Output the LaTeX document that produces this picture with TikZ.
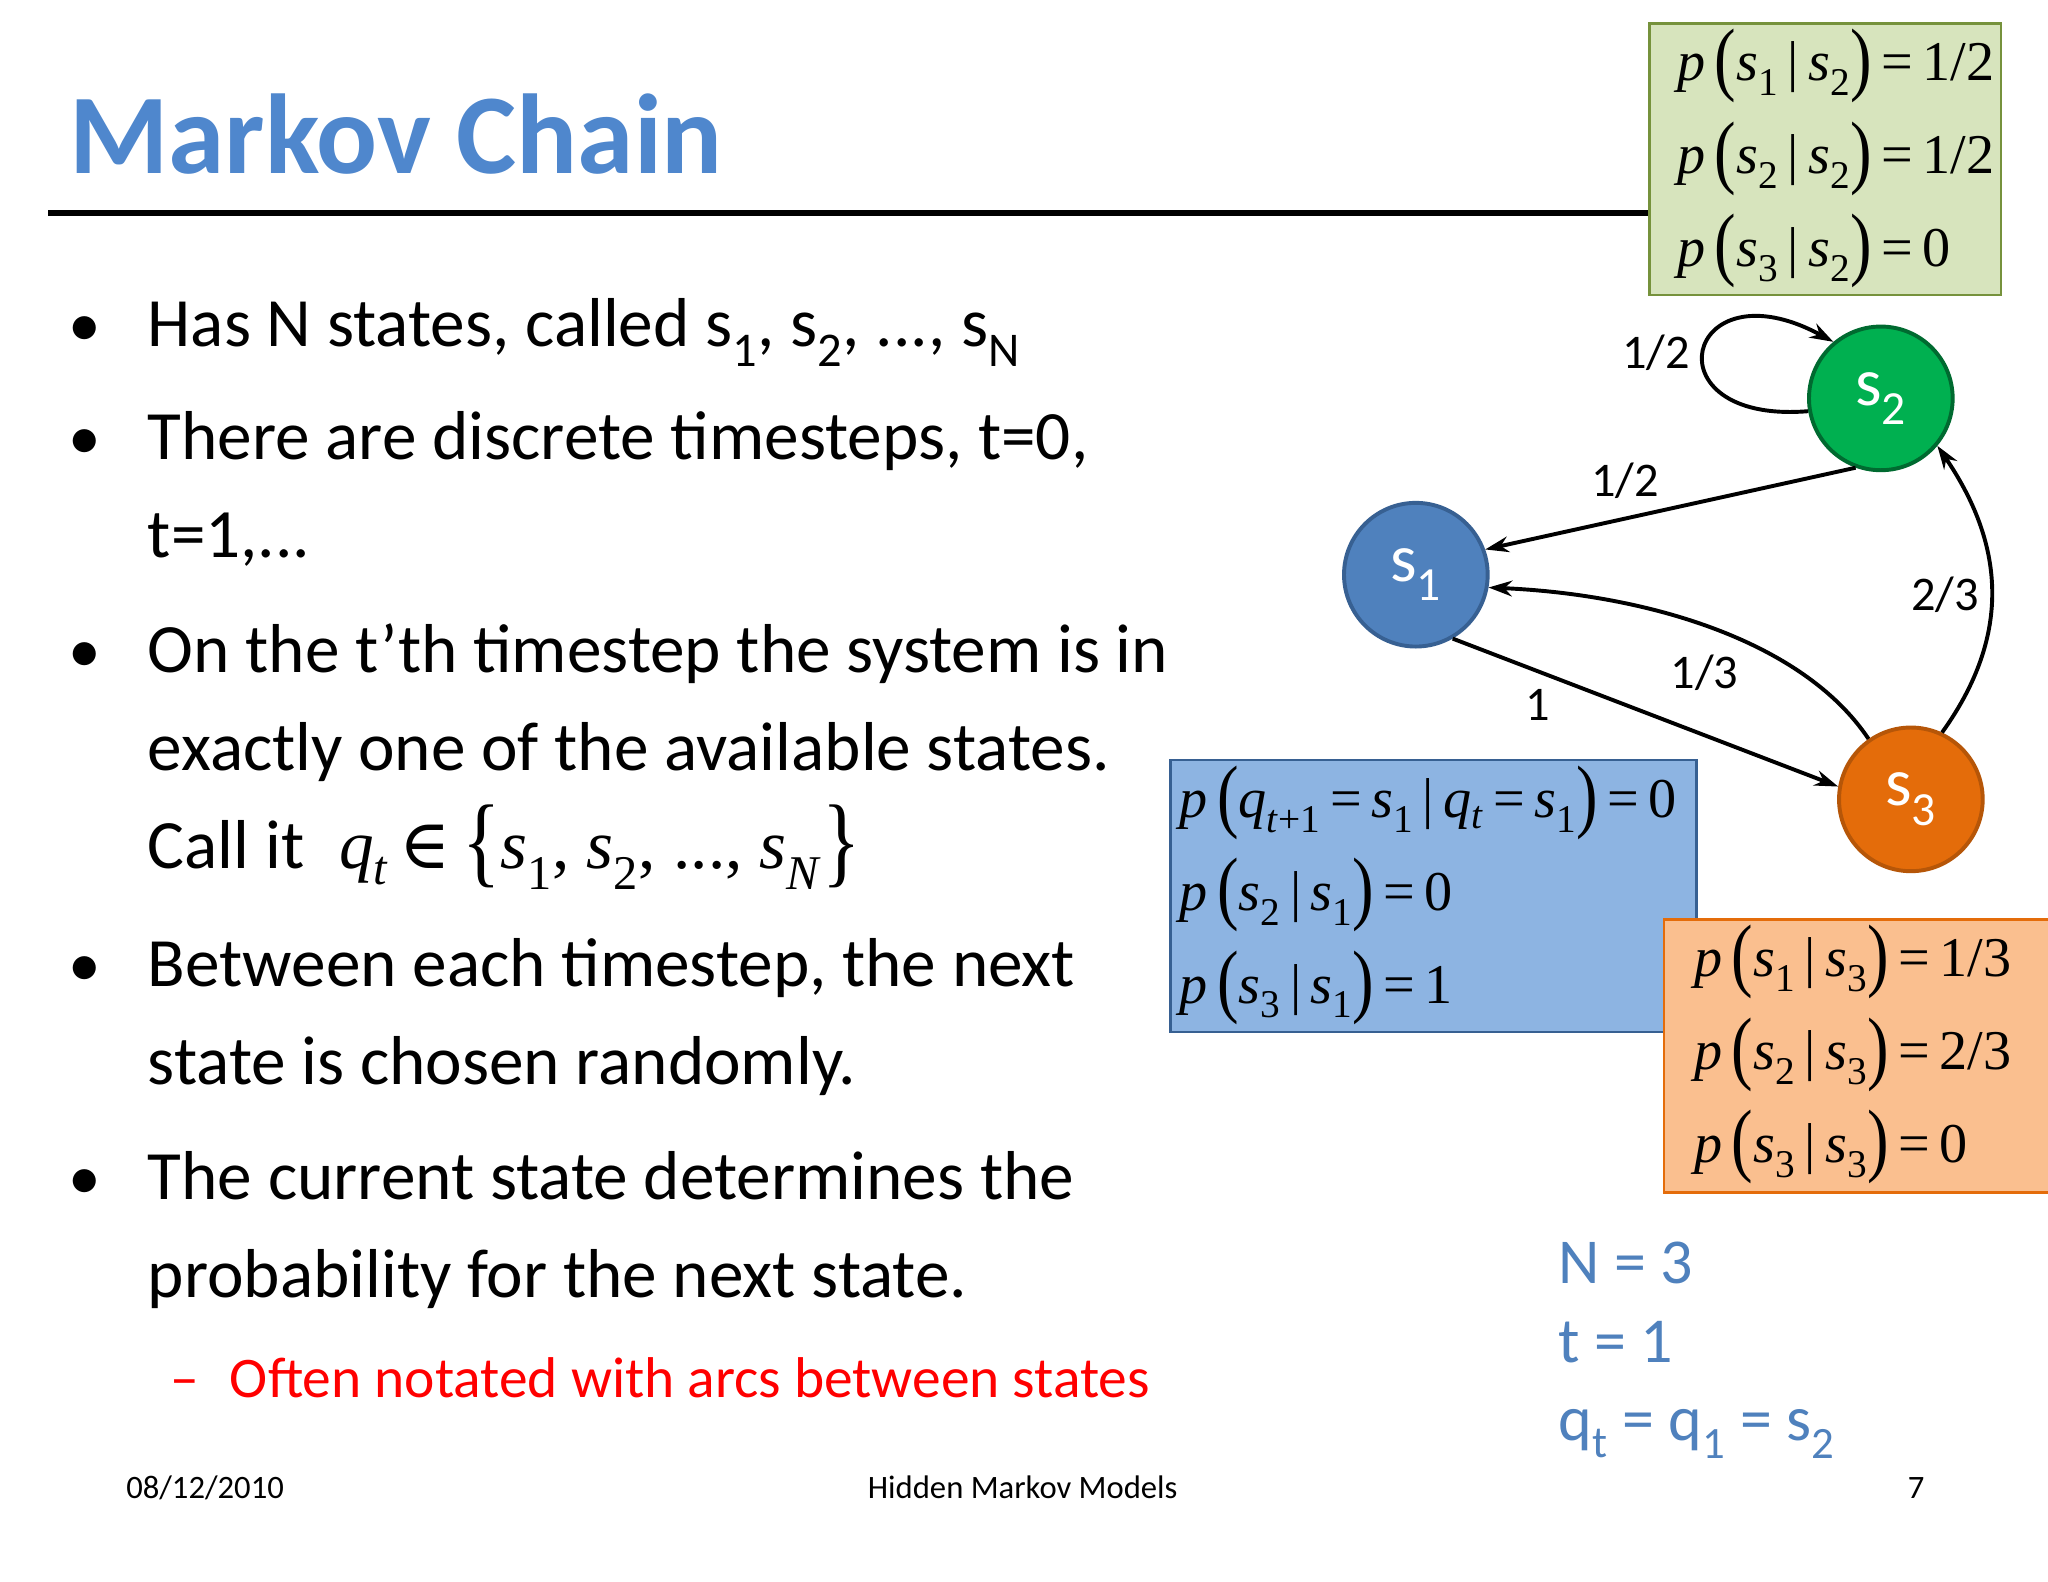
\documentclass[tikz,border=0pt]{standalone}
\usepackage{fontspec}
\usepackage{graphicx}
\setmainfont{Carlito}
\newfontfamily\tnr{Liberation Serif}
\newfontfamily\dvs{DejaVu Serif}
\usetikzlibrary{arrows.meta}
\definecolor{ttl}{RGB}{79,135,205}
\definecolor{bluef}{RGB}{141,180,226}
\definecolor{blued}{RGB}{55,96,146}
\definecolor{s1c}{RGB}{79,129,189}
\definecolor{s2c}{RGB}{0,176,80}
\definecolor{s3c}{RGB}{228,108,10}
\definecolor{greenf}{RGB}{215,228,189}
\definecolor{greend}{RGB}{118,146,60}
\definecolor{orangef}{RGB}{250,191,143}
\definecolor{nblue}{RGB}{79,129,189}
\newcommand\bp[1]{\raisebox{-0.08em}{\scalebox{1.15}[1.45]{#1}}}
\newcommand\mypr[3]{{\tnr\textit{p}\,\bp{(}\textit{s}\textsubscript{#1}\,\textbar\,\textit{s}\textsubscript{#2}\bp{)}\,=\,#3}}
\begin{document}
\begin{tikzpicture}[x=1pt,y=-1pt,
  body/.style={anchor=base west,inner sep=0pt,font=\fontsize{53}{60}\selectfont},
  bul/.style={anchor=base west,inner sep=0pt,font=\fontsize{50}{60}\selectfont},
  boxt/.style={anchor=base west,inner sep=0pt,font=\fontsize{43}{50}\selectfont},
  st/.style={circle,minimum size=110pt,inner sep=0pt,line width=3pt,text=white,font=\fontsize{52}{56}\selectfont},
  lab/.style={font=\fontsize{37}{40}\selectfont,inner sep=0pt},
  arr/.style={-{Stealth[length=18pt,width=12pt]},line width=3pt},
  nt/.style={anchor=base west,inner sep=0pt,text=nblue,font=\fontsize{49}{55}\selectfont},
  foot/.style={anchor=base,inner sep=0pt,font=\fontsize{25}{28}\selectfont}]
\useasboundingbox[fill=white] (0,0) rectangle (1568,1211);
\node[anchor=base west,inner sep=0pt,text=ttl,font=\fontsize{87}{95}\selectfont\bfseries] (title) at (53,133) {Markov Chain};
\draw[line width=4pt] (37,163) -- (1262,163);
% green box
\node[draw=greend,line width=2pt,minimum width=269pt,minimum height=208pt,anchor=north west,fill=greenf,inner sep=0pt] (gb) at (1262,17) {};
\node[boxt] (g1) at (1284,62) {\mypr{1}{2}{1/2}};
\node[boxt] (g2) at (1284,133) {\mypr{2}{2}{1/2}};
\node[boxt] (g3) at (1284,204) {\mypr{3}{2}{0}};
% bullets
\foreach \y/\n in {265/b1,352/b2,515/b3,755/b4,918/b5}{\node[bul] (\n) at (52,\y) {•};}
\node[body] (t1) at (113,265) {Has N states, called s\textsubscript{1}, s\textsubscript{2}, ..., s\textsubscript{N}};
\node[body] (t2) at (113,352) {There are discrete timesteps, t=0,};
\node[body] (t2b) at (113,427) {t=1,...};
\node[body] (t3) at (113,515) {On the t’th timestep the system is in};
\node[body] (t3b) at (113,590) {exactly one of the available states.};
\node[body] (t3c) at (113,665) {Call it\; {\tnr\textit{q\textsubscript{t}}\,{\dvs ∈}\,\bp{\{}\textit{s}\textsubscript{1}, \textit{s}\textsubscript{2}, ..., \textit{s}\textsubscript{\textit{N}}\bp{\}}}};
\node[body] (t4) at (113,755) {Between each timestep, the next};
\node[body] (t4b) at (113,830) {state is chosen randomly.};
\node[body] (t5) at (113,918) {The current state determines the};
\node[body] (t5b) at (113,993) {probability for the next state.};
\node[anchor=base west,inner sep=0pt,text=red,font=\fontsize{44}{48}\selectfont] (sub) at (130,1070) {–\hspace{24pt}Often notated with arcs between states};
% blue box
\node[draw=blued,fill=bluef,line width=2pt,minimum width=403pt,minimum height=208pt,anchor=north west,inner sep=0pt] (bb) at (895,581) {};
\node[boxt] (bl1) at (903,626) {{\tnr\textit{p}\,\bp{(}\textit{q}\textsubscript{\textit{t}+1}\,=\,\textit{s}\textsubscript{1}\,\textbar\,\textit{q}\textsubscript{\textit{t}}\,=\,\textit{s}\textsubscript{1}\bp{)}\,=\,0}};
\node[boxt] (bl2) at (903,697) {\mypr{2}{1}{0}};
\node[boxt] (bl3) at (903,768) {\mypr{3}{1}{1}};
% orange box
\node[draw=s3c,fill=orangef,line width=2pt,minimum width=295pt,minimum height=209pt,anchor=north west,inner sep=0pt] (ob) at (1273,703) {};
\node[boxt] (o1) at (1297,748) {\mypr{1}{3}{1/3}};
\node[boxt] (o2) at (1297,819) {\mypr{2}{3}{2/3}};
\node[boxt] (o3) at (1297,890) {\mypr{3}{3}{0}};
% states
\node[st,fill=s1c,draw=blued] (s1) at (1084,440) {s\textsubscript{1}};
\node[st,fill=s2c,draw=s2c!60!black] (s2) at (1440,305) {s\textsubscript{2}};
\node[st,fill=s3c,draw=s3c!80!black] (s3) at (1463,612) {s\textsubscript{3}};
\draw[arr] (s2.250) -- (s1.20);
\draw[arr] (s2.190) .. controls (1260,325) and (1290,200) .. (s2.130);
\draw[arr] (s3.125) .. controls (1380,490) and (1260,455) .. (s1.-10);
\draw[arr] (s1.-60) -- (s3.170);
\draw[arr] (s3.65) .. controls (1545,480) and (1530,410) .. (s2.-40);
\node[lab] (l1) at (1244,368) {1/2};
\node[lab] (l2) at (1268,270) {1/2};
\node[lab] (l3) at (1305,515) {1/3};
\node[lab] (l4) at (1177,540) {1};
\node[lab] (l5) at (1489,455) {2/3};
% N t q
\node[nt] (n1) at (1193,983) {N = 3};
\node[nt] (n2) at (1193,1043) {t = 1};
\node[nt] (n3) at (1193,1103) {q\textsubscript{t} = q\textsubscript{1} = s\textsubscript{2}};
% footer
\node[foot] (f1) at (157,1147) {08/12/2010};
\node[foot] (f2) at (783,1147) {Hidden Markov Models};
\node[foot] (f3) at (1467,1147) {7};
\end{tikzpicture}
\end{document}
